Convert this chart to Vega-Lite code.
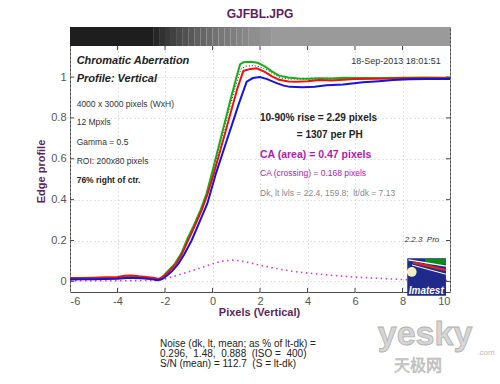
{
  "$schema": "https://vega.github.io/schema/vega-lite/v6.json",
  "width": 380,
  "height": 265,
  "autosize": "none",
  "padding": {"left": 70, "top": 27, "right": 50, "bottom": 92},
  "background": "white",
  "config": {"font": "Liberation Sans", "view": {"stroke": "#4a4a4a", "strokeWidth": 1}},
  "title": {"text": "GJFBL.JPG", "color": "#5b1f5e", "fontSize": 12, "fontWeight": "bold", "font": "Liberation Sans", "anchor": "middle", "offset": 6},
  "resolve": {"axis": {"x": "independent", "y": "independent"}},
  "layer": [
    {
      "data": {"values": [
        {"x0": -6, "x1": -2.5, "lvl": 0},
        {"x0": -2.5, "x1": -2.25, "lvl": 0.08},
        {"x0": -2.25, "x1": -2, "lvl": 0.17},
        {"x0": -2, "x1": -1.75, "lvl": 0.24},
        {"x0": -1.75, "x1": -1.5, "lvl": 0.31},
        {"x0": -1.5, "x1": -1.25, "lvl": 0.38},
        {"x0": -1.25, "x1": -1, "lvl": 0.44},
        {"x0": -1, "x1": -0.75, "lvl": 0.5},
        {"x0": -0.75, "x1": -0.5, "lvl": 0.56},
        {"x0": -0.5, "x1": -0.25, "lvl": 0.61},
        {"x0": -0.25, "x1": 0, "lvl": 0.66},
        {"x0": 0, "x1": 0.25, "lvl": 0.7},
        {"x0": 0.25, "x1": 0.5, "lvl": 0.74},
        {"x0": 0.5, "x1": 0.75, "lvl": 0.77},
        {"x0": 0.75, "x1": 1, "lvl": 0.8},
        {"x0": 1, "x1": 1.25, "lvl": 0.84},
        {"x0": 1.25, "x1": 1.5, "lvl": 0.87},
        {"x0": 1.5, "x1": 2, "lvl": 0.91},
        {"x0": 2, "x1": 2.5, "lvl": 0.96},
        {"x0": 2.5, "x1": 10, "lvl": 1}
      ]},
      "mark": {"type": "rect"},
      "encoding": {
        "x": {"field": "x0", "type": "quantitative", "scale": {"domain": [-6, 10], "nice": false, "zero": false}, "axis": null},
        "x2": {"field": "x1"},
        "y": {"datum": 1.152, "type": "quantitative", "scale": {"domain": [-0.052, 1.245], "nice": false, "zero": false}, "axis": null},
        "y2": {"datum": 1.245},
        "color": {"field": "lvl", "type": "quantitative", "scale": {"domain": [0, 1], "range": ["#1e1e1e", "#9a9a9a"]}, "legend": null}
      }
    },
    {
      "data": {"values": [
        {"x": -6, "v": 0.003}, {"x": -5, "v": 0.003}, {"x": -4, "v": 0.003}, {"x": -3, "v": 0.004}, {"x": -2.3, "v": 0.005},
        {"x": -2, "v": 0.012}, {"x": -1.5, "v": 0.029}, {"x": -1, "v": 0.047}, {"x": -0.5, "v": 0.066}, {"x": 0, "v": 0.086},
        {"x": 0.4, "v": 0.099}, {"x": 0.85, "v": 0.104}, {"x": 1.2, "v": 0.1}, {"x": 1.6, "v": 0.09}, {"x": 2, "v": 0.079},
        {"x": 2.5, "v": 0.067}, {"x": 3, "v": 0.056}, {"x": 3.5, "v": 0.047}, {"x": 4, "v": 0.041}, {"x": 5, "v": 0.03},
        {"x": 6, "v": 0.021}, {"x": 7, "v": 0.015}, {"x": 8, "v": 0.009}, {"x": 9, "v": 0.005}, {"x": 10, "v": 0.004}
      ]},
      "mark": {"type": "line", "color": "#dd33dd", "strokeWidth": 1.6, "strokeDash": [1.5, 3.5]},
      "encoding": {
        "x": {"field": "x", "type": "quantitative", "scale": {"domain": [-6, 10], "nice": false, "zero": false}, "axis": null},
        "y": {"field": "v", "type": "quantitative", "scale": {"domain": [-0.052, 1.245], "nice": false, "zero": false}, "axis": null}
      }
    },
    {
      "data": {"values": [
        {"x": -6, "v": 0.012}, {"x": -5, "v": 0.014}, {"x": -4, "v": 0.018}, {"x": -3.5, "v": 0.023}, {"x": -3, "v": 0.02},
        {"x": -2.5, "v": 0.015}, {"x": -2.2, "v": 0.01}, {"x": -2, "v": 0.033}, {"x": -1.8, "v": 0.057}, {"x": -1.55, "v": 0.09},
        {"x": -1.3, "v": 0.138}, {"x": -1.07, "v": 0.2}, {"x": -0.78, "v": 0.27}, {"x": -0.48, "v": 0.35}, {"x": -0.23, "v": 0.43},
        {"x": 0.02, "v": 0.535}, {"x": 0.27, "v": 0.648}, {"x": 0.52, "v": 0.76}, {"x": 0.77, "v": 0.87}, {"x": 1.02, "v": 0.975},
        {"x": 1.2, "v": 1.04}, {"x": 1.4, "v": 1.053}, {"x": 1.7, "v": 1.056}, {"x": 2, "v": 1.05}, {"x": 2.3, "v": 1.035},
        {"x": 2.6, "v": 1.012}, {"x": 2.9, "v": 0.995}, {"x": 3.3, "v": 0.99}, {"x": 4, "v": 0.99}, {"x": 5, "v": 0.99},
        {"x": 6, "v": 0.993}, {"x": 8, "v": 0.995}, {"x": 10, "v": 0.996}
      ]},
      "mark": {"type": "line", "color": "#222222", "strokeWidth": 1, "strokeDash": [1, 2]},
      "encoding": {
        "x": {"field": "x", "type": "quantitative", "scale": {"domain": [-6, 10], "nice": false, "zero": false}, "axis": null},
        "y": {"field": "v", "type": "quantitative", "scale": {"domain": [-0.052, 1.245], "nice": false, "zero": false}, "axis": null}
      }
    },
    {
      "data": {"values": [
        {"x": -6, "v": 0.012}, {"x": -5.5, "v": 0.012}, {"x": -5, "v": 0.013}, {"x": -4.5, "v": 0.015}, {"x": -4, "v": 0.017},
        {"x": -3.7, "v": 0.02}, {"x": -3.4, "v": 0.022}, {"x": -3, "v": 0.019}, {"x": -2.6, "v": 0.014}, {"x": -2.3, "v": 0.009},
        {"x": -2.2, "v": 0.01}, {"x": -2, "v": 0.035}, {"x": -1.8, "v": 0.06}, {"x": -1.58, "v": 0.087}, {"x": -1.3, "v": 0.14},
        {"x": -1.09, "v": 0.2}, {"x": -0.8, "v": 0.27}, {"x": -0.5, "v": 0.35}, {"x": -0.25, "v": 0.43}, {"x": 0, "v": 0.54},
        {"x": 0.25, "v": 0.655}, {"x": 0.5, "v": 0.77}, {"x": 0.75, "v": 0.885}, {"x": 1, "v": 0.995}, {"x": 1.16, "v": 1.062},
        {"x": 1.3, "v": 1.072}, {"x": 1.6, "v": 1.075}, {"x": 1.9, "v": 1.07}, {"x": 2.2, "v": 1.052}, {"x": 2.5, "v": 1.028},
        {"x": 2.8, "v": 1.007}, {"x": 3.2, "v": 0.998}, {"x": 3.6, "v": 0.993}, {"x": 4, "v": 0.992}, {"x": 4.5, "v": 0.994},
        {"x": 5, "v": 0.993}, {"x": 5.5, "v": 0.996}, {"x": 6, "v": 0.995}, {"x": 7, "v": 0.996}, {"x": 8, "v": 0.997},
        {"x": 9, "v": 0.998}, {"x": 10, "v": 0.997}
      ]},
      "mark": {"type": "line", "color": "#14b014", "strokeWidth": 2},
      "encoding": {
        "x": {"field": "x", "type": "quantitative", "scale": {"domain": [-6, 10], "nice": false, "zero": false},
          "axis": {"values": [-6, -4, -2, 0, 2, 4, 6, 8, 10], "labelExpr": "'' + datum.value", "ticks": false, "domain": false, "grid": true, "gridDash": [1, 3], "gridColor": "#c4c4c4", "labelColor": "#555555", "labelFontSize": 11, "labelPadding": 3, "labelFont": "Liberation Sans",
            "title": "Pixels (Vertical)", "titleColor": "#5b1f5e", "titleFontSize": 11, "titleFontWeight": "bold", "titleFont": "Liberation Sans", "titleX": 189, "titleY": 20, "titleBaseline": "middle", "titleAlign": "center"}},
        "y": {"field": "v", "type": "quantitative", "scale": {"domain": [-0.052, 1.245], "nice": false, "zero": false},
          "axis": {"values": [0, 0.2, 0.4, 0.6, 0.8, 1], "labelExpr": "'' + datum.value", "ticks": false, "domain": false, "grid": true, "gridDash": [1, 3], "gridColor": "#c4c4c4", "labelColor": "#555555", "labelFontSize": 11, "labelPadding": 4, "labelFont": "Liberation Sans",
            "title": "Edge profile", "titleColor": "#5b1f5e", "titleFontSize": 11, "titleFontWeight": "bold", "titleFont": "Liberation Sans", "titleX": -28.5, "titleY": 144, "titleAngle": -90, "titleBaseline": "middle", "titleAlign": "center"}}
      }
    },
    {
      "data": {"values": [
        {"x": -6, "v": 0.016}, {"x": -5.5, "v": 0.017}, {"x": -5, "v": 0.018}, {"x": -4.5, "v": 0.02}, {"x": -4, "v": 0.022},
        {"x": -3.7, "v": 0.027}, {"x": -3.4, "v": 0.029}, {"x": -3.1, "v": 0.025}, {"x": -2.8, "v": 0.022}, {"x": -2.5, "v": 0.018},
        {"x": -2.25, "v": 0.012}, {"x": -2, "v": 0.03}, {"x": -1.8, "v": 0.052}, {"x": -1.5, "v": 0.092}, {"x": -1.3, "v": 0.13},
        {"x": -1.05, "v": 0.195}, {"x": -0.75, "v": 0.27}, {"x": -0.45, "v": 0.35}, {"x": -0.2, "v": 0.43}, {"x": 0.06, "v": 0.53},
        {"x": 0.3, "v": 0.63}, {"x": 0.55, "v": 0.735}, {"x": 0.8, "v": 0.84}, {"x": 1.05, "v": 0.945}, {"x": 1.3, "v": 1.03},
        {"x": 1.6, "v": 1.04}, {"x": 1.86, "v": 1.043}, {"x": 2.2, "v": 1.025}, {"x": 2.5, "v": 1.003}, {"x": 2.8, "v": 0.987},
        {"x": 3.2, "v": 0.978}, {"x": 3.55, "v": 0.977}, {"x": 4, "v": 0.98}, {"x": 4.5, "v": 0.985}, {"x": 5, "v": 0.983},
        {"x": 5.5, "v": 0.987}, {"x": 6, "v": 0.99}, {"x": 7, "v": 0.992}, {"x": 8, "v": 0.994}, {"x": 9, "v": 0.995},
        {"x": 10, "v": 0.995}
      ]},
      "mark": {"type": "line", "color": "#ee1111", "strokeWidth": 2},
      "encoding": {
        "x": {"field": "x", "type": "quantitative", "scale": {"domain": [-6, 10], "nice": false, "zero": false}, "axis": null},
        "y": {"field": "v", "type": "quantitative", "scale": {"domain": [-0.052, 1.245], "nice": false, "zero": false}, "axis": null}
      }
    },
    {
      "data": {"values": [
        {"x": -6, "v": 0.009}, {"x": -5.5, "v": 0.01}, {"x": -5, "v": 0.011}, {"x": -4.5, "v": 0.012}, {"x": -4, "v": 0.013},
        {"x": -3.6, "v": 0.016}, {"x": -3.3, "v": 0.017}, {"x": -3, "v": 0.015}, {"x": -2.6, "v": 0.011}, {"x": -2.3, "v": 0.006},
        {"x": -2.1, "v": 0.012}, {"x": -1.9, "v": 0.03}, {"x": -1.7, "v": 0.05}, {"x": -1.44, "v": 0.085}, {"x": -1.2, "v": 0.13},
        {"x": -0.88, "v": 0.2}, {"x": -0.55, "v": 0.29}, {"x": -0.22, "v": 0.38}, {"x": 0.15, "v": 0.53}, {"x": 0.5, "v": 0.654},
        {"x": 0.8, "v": 0.76}, {"x": 1.1, "v": 0.866}, {"x": 1.44, "v": 0.977}, {"x": 1.7, "v": 0.995}, {"x": 2, "v": 1},
        {"x": 2.3, "v": 0.99}, {"x": 2.7, "v": 0.97}, {"x": 3, "v": 0.958}, {"x": 3.26, "v": 0.952}, {"x": 3.8, "v": 0.95},
        {"x": 4.3, "v": 0.953}, {"x": 4.8, "v": 0.96}, {"x": 5.5, "v": 0.964}, {"x": 6.34, "v": 0.974}, {"x": 7, "v": 0.98},
        {"x": 7.6, "v": 0.985}, {"x": 8.3, "v": 0.989}, {"x": 9, "v": 0.99}, {"x": 10, "v": 0.99}
      ]},
      "mark": {"type": "line", "color": "#1414dc", "strokeWidth": 2},
      "encoding": {
        "x": {"field": "x", "type": "quantitative", "scale": {"domain": [-6, 10], "nice": false, "zero": false}, "axis": null},
        "y": {"field": "v", "type": "quantitative", "scale": {"domain": [-0.052, 1.245], "nice": false, "zero": false}, "axis": null}
      }
    },
    {
      "data": {"values": [{"x": -4}, {"x": -2}, {"x": 0}, {"x": 2}, {"x": 4}, {"x": 6}, {"x": 8}]},
      "layer": [
        {"mark": {"type": "rule", "color": "#4a4a4a"}, "encoding": {
          "x": {"field": "x", "type": "quantitative", "scale": {"domain": [-6, 10], "nice": false, "zero": false}, "axis": null},
          "y": {"datum": 1.152, "type": "quantitative", "scale": {"domain": [-0.052, 1.245], "nice": false, "zero": false}, "axis": null}, "y2": {"datum": 1.132}}},
        {"mark": {"type": "rule", "color": "#4a4a4a"}, "encoding": {
          "x": {"field": "x", "type": "quantitative", "scale": {"domain": [-6, 10], "nice": false, "zero": false}, "axis": null},
          "y": {"datum": -0.052, "type": "quantitative", "scale": {"domain": [-0.052, 1.245], "nice": false, "zero": false}, "axis": null}, "y2": {"datum": -0.032}}}
      ]
    },
    {
      "data": {"values": [{"v": 0}, {"v": 0.2}, {"v": 0.4}, {"v": 0.6}, {"v": 0.8}, {"v": 1}]},
      "layer": [
        {"mark": {"type": "rule", "color": "#4a4a4a"}, "encoding": {
          "y": {"field": "v", "type": "quantitative", "scale": {"domain": [-0.052, 1.245], "nice": false, "zero": false}, "axis": null},
          "x": {"datum": -6, "type": "quantitative", "scale": {"domain": [-6, 10], "nice": false, "zero": false}, "axis": null}, "x2": {"datum": -5.83}}},
        {"mark": {"type": "rule", "color": "#4a4a4a"}, "encoding": {
          "y": {"field": "v", "type": "quantitative", "scale": {"domain": [-0.052, 1.245], "nice": false, "zero": false}, "axis": null},
          "x": {"datum": 10, "type": "quantitative", "scale": {"domain": [-6, 10], "nice": false, "zero": false}, "axis": null}, "x2": {"datum": 9.83}}}
      ]
    },
    {
      "data": {"values": [{"name": "Imatest"}]},
      "layer": [
        {"mark": {"type": "rect", "color": "#1f2a8a"}, "encoding": {"x": {"datum": 8.2, "type": "quantitative", "axis": null}, "x2": {"datum": 9.83}, "y": {"datum": -0.07, "type": "quantitative", "axis": null}, "y2": {"datum": 0.113}}},
        {"mark": {"type": "rect", "color": "#0b8a14"}, "encoding": {"x": {"datum": 8.95, "type": "quantitative", "axis": null}, "x2": {"datum": 9.83}, "y": {"datum": 0.082, "type": "quantitative", "axis": null}, "y2": {"datum": 0.11}}},
        {"mark": {"type": "rule", "color": "#ffffff", "strokeWidth": 1.2}, "encoding": {"x": {"datum": 8.25, "type": "quantitative", "axis": null}, "x2": {"datum": 9.83}, "y": {"datum": 0.105, "type": "quantitative", "axis": null}, "y2": {"datum": 0.075}}},
        {"mark": {"type": "rule", "color": "#dd2222", "strokeWidth": 2.5}, "encoding": {"x": {"datum": 8.45, "type": "quantitative", "axis": null}, "x2": {"datum": 9.83}, "y": {"datum": 0.092, "type": "quantitative", "axis": null}, "y2": {"datum": 0.055}}},
        {"mark": {"type": "rule", "color": "#ffffff", "strokeWidth": 1}, "encoding": {"x": {"datum": 8.4, "type": "quantitative", "axis": null}, "x2": {"datum": 9.83}, "y": {"datum": 0.08, "type": "quantitative", "axis": null}, "y2": {"datum": 0.035}}},
        {"mark": {"type": "point", "filled": true, "color": "#f2f0c0", "size": 95, "opacity": 1}, "encoding": {"x": {"datum": 8.39, "type": "quantitative", "axis": null}, "y": {"datum": 0.046, "type": "quantitative", "axis": null}}},
        {"mark": {"type": "text", "color": "#ffffff", "fontSize": 10, "fontWeight": "bold", "fontStyle": "italic", "align": "center", "baseline": "middle"}, "encoding": {"x": {"datum": 9.0, "type": "quantitative", "axis": null}, "y": {"datum": -0.045, "type": "quantitative", "axis": null}, "text": {"field": "name"}}}
      ]
    },
    {
      "data": {"values": [
        {"x": -5.72, "v": 1.078, "t": "Chromatic Aberration"},
        {"x": -5.72, "v": 0.99, "t": "Profile: Vertical"}
      ]},
      "mark": {"type": "text", "align": "left", "baseline": "middle", "fontSize": 11, "fontWeight": "bold", "fontStyle": "italic", "color": "#222222"},
      "encoding": {
        "x": {"field": "x", "type": "quantitative", "scale": {"domain": [-6, 10], "nice": false, "zero": false}, "axis": null},
        "y": {"field": "v", "type": "quantitative", "scale": {"domain": [-0.052, 1.245], "nice": false, "zero": false}, "axis": null},
        "text": {"field": "t"}}
    },
    {
      "data": {"values": [
        {"x": -5.72, "v": 0.866, "t": "4000 x 3000 pixels (WxH)"},
        {"x": -5.72, "v": 0.778, "t": "12 Mpxls"},
        {"x": -5.72, "v": 0.683, "t": "Gamma = 0.5"},
        {"x": -5.72, "v": 0.588, "t": "ROI: 200x80 pixels"}
      ]},
      "mark": {"type": "text", "align": "left", "baseline": "middle", "fontSize": 8.5, "color": "#333333"},
      "encoding": {
        "x": {"field": "x", "type": "quantitative", "scale": {"domain": [-6, 10], "nice": false, "zero": false}, "axis": null},
        "y": {"field": "v", "type": "quantitative", "scale": {"domain": [-0.052, 1.245], "nice": false, "zero": false}, "axis": null},
        "text": {"field": "t"}}
    },
    {
      "data": {"values": [{"x": -5.72, "v": 0.495, "t": "76% right of ctr."}]},
      "mark": {"type": "text", "align": "left", "baseline": "middle", "fontSize": 8.5, "fontWeight": "bold", "color": "#222222"},
      "encoding": {
        "x": {"field": "x", "type": "quantitative", "scale": {"domain": [-6, 10], "nice": false, "zero": false}, "axis": null},
        "y": {"field": "v", "type": "quantitative", "scale": {"domain": [-0.052, 1.245], "nice": false, "zero": false}, "axis": null},
        "text": {"field": "t"}}
    },
    {
      "data": {"values": [{"x": 9.61, "v": 1.078, "t": "18-Sep-2013 18:01:51"}]},
      "mark": {"type": "text", "align": "right", "baseline": "middle", "fontSize": 9, "color": "#333333"},
      "encoding": {
        "x": {"field": "x", "type": "quantitative", "scale": {"domain": [-6, 10], "nice": false, "zero": false}, "axis": null},
        "y": {"field": "v", "type": "quantitative", "scale": {"domain": [-0.052, 1.245], "nice": false, "zero": false}, "axis": null},
        "text": {"field": "t"}}
    },
    {
      "data": {"values": [
        {"x": 2.0, "v": 0.802, "t": "10-90% rise = 2.29 pixels"},
        {"x": 3.55, "v": 0.716, "t": "= 1307 per PH"}
      ]},
      "mark": {"type": "text", "align": "left", "baseline": "middle", "fontSize": 10, "fontWeight": "bold", "color": "#222222"},
      "encoding": {
        "x": {"field": "x", "type": "quantitative", "scale": {"domain": [-6, 10], "nice": false, "zero": false}, "axis": null},
        "y": {"field": "v", "type": "quantitative", "scale": {"domain": [-0.052, 1.245], "nice": false, "zero": false}, "axis": null},
        "text": {"field": "t"}}
    },
    {
      "data": {"values": [{"x": 2.0, "v": 0.618, "t": "CA (area) = 0.47 pixels"}]},
      "mark": {"type": "text", "align": "left", "baseline": "middle", "fontSize": 10.5, "fontWeight": "bold", "color": "#b01ab0"},
      "encoding": {
        "x": {"field": "x", "type": "quantitative", "scale": {"domain": [-6, 10], "nice": false, "zero": false}, "axis": null},
        "y": {"field": "v", "type": "quantitative", "scale": {"domain": [-0.052, 1.245], "nice": false, "zero": false}, "axis": null},
        "text": {"field": "t"}}
    },
    {
      "data": {"values": [{"x": 2.0, "v": 0.531, "t": "CA (crossing) = 0.168 pixels"}]},
      "mark": {"type": "text", "align": "left", "baseline": "middle", "fontSize": 8.5, "color": "#b01ab0"},
      "encoding": {
        "x": {"field": "x", "type": "quantitative", "scale": {"domain": [-6, 10], "nice": false, "zero": false}, "axis": null},
        "y": {"field": "v", "type": "quantitative", "scale": {"domain": [-0.052, 1.245], "nice": false, "zero": false}, "axis": null},
        "text": {"field": "t"}}
    },
    {
      "data": {"values": [{"x": 2.0, "v": 0.433, "t": "Dk, lt lvls = 22.4, 159.8;\u00a0 lt/dk = 7.13"}]},
      "mark": {"type": "text", "align": "left", "baseline": "middle", "fontSize": 8.5, "color": "#888888"},
      "encoding": {
        "x": {"field": "x", "type": "quantitative", "scale": {"domain": [-6, 10], "nice": false, "zero": false}, "axis": null},
        "y": {"field": "v", "type": "quantitative", "scale": {"domain": [-0.052, 1.245], "nice": false, "zero": false}, "axis": null},
        "text": {"field": "t"}}
    },
    {
      "data": {"values": [{"x": 9.55, "v": 0.201, "t": "2.2.3\u00a0 Pro"}]},
      "mark": {"type": "text", "align": "right", "baseline": "middle", "fontSize": 8, "fontStyle": "italic", "color": "#333333"},
      "encoding": {
        "x": {"field": "x", "type": "quantitative", "scale": {"domain": [-6, 10], "nice": false, "zero": false}, "axis": null},
        "y": {"field": "v", "type": "quantitative", "scale": {"domain": [-0.052, 1.245], "nice": false, "zero": false}, "axis": null},
        "text": {"field": "t"}}
    },
    {
      "data": {"values": [
        {"x": -2.21, "v": -0.305, "t": "Noise (dk, lt, mean; as % of lt-dk) ="},
        {"x": -2.21, "v": -0.355, "t": "0.296,\u00a0 1.48,\u00a0 0.888\u00a0 (ISO =\u00a0 400)"},
        {"x": -2.21, "v": -0.404, "t": "S/N (mean) = 112.7\u00a0 (S = lt-dk)"}
      ]},
      "mark": {"type": "text", "align": "left", "baseline": "middle", "fontSize": 10, "color": "#222222"},
      "encoding": {
        "x": {"field": "x", "type": "quantitative", "scale": {"domain": [-6, 10], "nice": false, "zero": false}, "axis": null},
        "y": {"field": "v", "type": "quantitative", "scale": {"domain": [-0.052, 1.245], "nice": false, "zero": false}, "axis": null},
        "text": {"field": "t"}}
    },
    {
      "data": {"values": [{"x": 8.95, "v": -0.262, "t": "yesky"}]},
      "mark": {"type": "text", "align": "center", "baseline": "middle", "fontSize": 34, "fontWeight": "bold", "color": "#d6d6d6", "stroke": "#b0b0b0", "strokeWidth": 0.8},
      "encoding": {
        "x": {"field": "x", "type": "quantitative", "scale": {"domain": [-6, 10], "nice": false, "zero": false}, "axis": null},
        "y": {"field": "v", "type": "quantitative", "scale": {"domain": [-0.052, 1.245], "nice": false, "zero": false}, "axis": null},
        "text": {"field": "t"}}
    },
    {
      "data": {"values": [{"x": 11.15, "v": -0.35, "t": ".com"}]},
      "mark": {"type": "text", "align": "left", "baseline": "middle", "fontSize": 8, "color": "#b8b8b8"},
      "encoding": {
        "x": {"field": "x", "type": "quantitative", "scale": {"domain": [-6, 10], "nice": false, "zero": false}, "axis": null},
        "y": {"field": "v", "type": "quantitative", "scale": {"domain": [-0.052, 1.245], "nice": false, "zero": false}, "axis": null},
        "text": {"field": "t"}}
    },
    {
      "data": {"values": [{"x": 8.65, "v": -0.412, "t": "天极网"}]},
      "mark": {"type": "text", "align": "center", "baseline": "middle", "fontSize": 16, "font": "Noto Sans CJK SC", "color": "#d0d0d0", "stroke": "#b0b0b0", "strokeWidth": 0.5},
      "encoding": {
        "x": {"field": "x", "type": "quantitative", "scale": {"domain": [-6, 10], "nice": false, "zero": false}, "axis": null},
        "y": {"field": "v", "type": "quantitative", "scale": {"domain": [-0.052, 1.245], "nice": false, "zero": false}, "axis": null},
        "text": {"field": "t"}}
    }
  ]
}
